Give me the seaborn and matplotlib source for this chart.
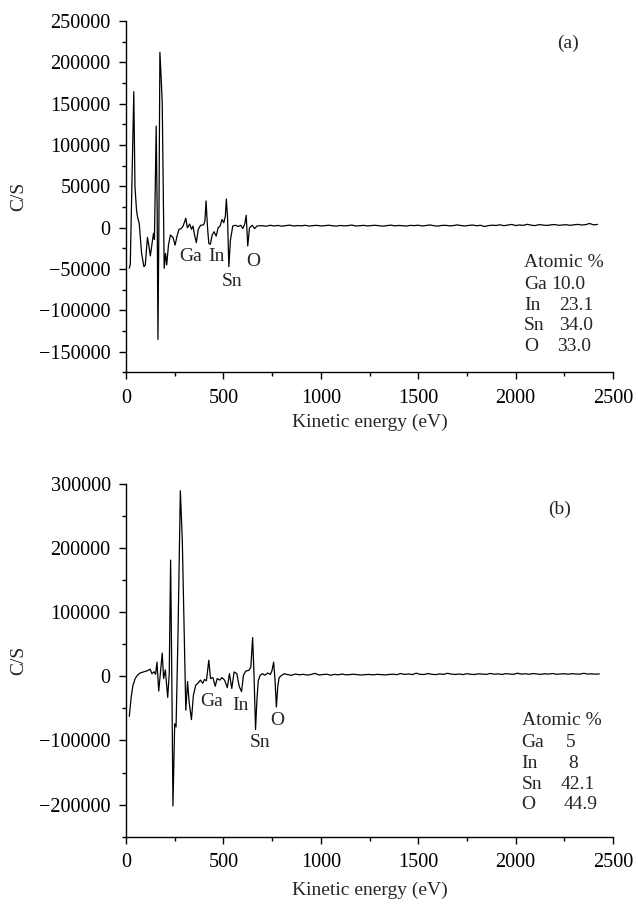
import numpy as np
import pandas as pd
import matplotlib
matplotlib.use("Agg")
import matplotlib.pyplot as plt
import seaborn as sns

# ---------------- data: panel (a) ----------------
energy_a_low = [17, 22, 40, 46, 54, 59, 68, 80, 92, 99, 110, 117, 125, 134, 141, 146,
                155, 160, 164, 169, 174, 181, 186, 196, 203, 209, 218, 228, 241, 252,
                262, 272, 284, 293, 307, 315, 327, 336, 344, 352, 361, 371, 383, 398,
                405, 411, 418, 425, 433, 442, 452, 463, 473, 483, 493, 502, 510, 515,
                521, 528, 536, 548, 562, 576, 589, 600, 610, 617, 625, 634, 648, 660,
                672, 686]
cps_a_low = [-49000, -44000, 164600, 49600, 21400, 13300, 5000, -31000, -47000, -45000,
             -11600, -21000, -34000, -19000, -6800, -14000, 123000, 20000, -135000,
             10000, 212200, 178700, 150500, -49000, -31000, -45000, -21000, -8800,
             -11600, -21000, -10000, -1800, -1000, 2000, 11500, 0, 4500, -1800, 2000,
             -9000, -18000, -1800, 3000, 3500, 8000, 32500, 2000, -19000, -20000, -9000,
             -4800, -10000, 0, 2000, 10000, 6000, 14000, 34700, 14000, -47000, -15000,
             2000, 3000, 1500, 3000, -1000, 5000, 15000, -22000, 0, 3000, -1000, 2000,
             2500]
tail_a = [2500, 1800, 3000, 2200, 2800, 1900, 2600, 3200, 2100, 2700, 2300, 3000, 2000,
          2600, 2900, 2200, 2500, 3100, 2400, 2000, 2800, 2300, 2600, 3300, 2100, 2500,
          2900, 2200, 2700, 3000, 2400, 2000, 2600, 3200, 2300, 2800, 2500, 2100, 2900,
          2600, 3100, 2200, 2700, 3400, 2500, 2000, 2800, 3000, 2300, 2600, 3500, 2700,
          2200, 2900, 3300, 2400, 3000, 1500, 2600, 3100, 2800, 3600, 2500, 3200, 4000,
          2700, 3400, 2900, 4200, 3100, 2600, 3800, 3300, 2800, 3500, 3900, 3000, 3400,
          3700, 2900, 3600, 4100, 3300, 3800, 5200, 3500, 4000]

# ---------------- data: panel (b) ----------------
energy_b_low = [17, 26, 35, 47, 59, 72, 90, 107, 124, 133, 145, 152, 159, 168, 176, 186,
                193, 202, 214, 222, 229, 235, 241, 250, 257, 267, 279, 289, 307, 316,
                324, 336, 346, 358, 372, 382, 394, 403, 413, 425, 434, 446, 458, 468,
                482, 492, 506, 520, 531, 543, 555, 569, 581, 593, 603, 615, 632, 641,
                650, 657, 665, 672, 679, 689, 701, 713, 727, 741, 749, 758, 765, 772,
                779, 786, 800, 813]
cps_b_low = [-62400, -34000, -15000, -3600, 1600, 5000, 6800, 8300, 11000, 4000, 7000,
             3000, 22000, -23000, 4000, 36000, -3600, 10000, -33000, 4000, 181000, 4000,
             -202000, -74000, -79000, 66600, 289000, 212000, -53000, -8300, -40000,
             -67600, -29600, -14000, -10000, -6000, -11000, -5000, -7000, 25000, -3600,
             -2000, -15600, -3600, -6000, -2000, -6000, -17700, 4000, -19000, 6700, 4000,
             -15600, -24000, 1600, 8000, 9400, 14500, 60300, 4000, -83000, -37000, -7000,
             1600, 4000, 1600, 5000, 3000, 8300, 22000, -6000, -48000, -16600, -2000,
             1600, 4000]
tail_b = [2500, 1500, 3500, 2200, 3000, 1800, 2800, 4500, 2000, 2600, 3200, 1700, 2900,
          2300, 3400, 2100, 2700, 3100, 2400, 1900, 2600, 2800, 2200, 3000, 2500, 2100,
          2700, 3300, 2400, 4300, 2800, 3600, 2600, 4800, 3000, 2700, 4200, 3100, 2500,
          3700, 2900, 4600, 3300, 2800, 3500, 2600, 4000, 3100, 2700, 3800, 3300, 2900,
          4400, 3200, 3700, 2800, 4100, 3400, 3000, 4700, 3300, 3900, 3100, 4200, 3500,
          3000, 3800, 3400, 4300, 3100, 3600, 3900, 3200, 4000, 3500, 3300, 4600, 3400,
          3800, 3200, 3600]

labels = ["Ga", "In", "Sn", "O"]
label_pos_a = [(331, -35000), (463, -35000), (542, -64500), (653, -40300)]
label_pos_b = [(437, -40000), (588, -45300), (689, -102500), (775, -69700)]
atomic_a = ["10.0", "23.1", "34.0", "33.0"]
atomic_b = ["5", "8", "42.1", "44.9"]

energy_tail_a = np.arange(700, 700 + 20 * len(tail_a), 20)
energy_tail_b = np.arange(830, 830 + 20 * len(tail_b), 20)

df_a = pd.DataFrame({"E": list(energy_a_low) + list(energy_tail_a),
                     "C": list(cps_a_low) + list(tail_a)})
df_b = pd.DataFrame({"E": list(energy_b_low) + list(energy_tail_b),
                     "C": list(cps_b_low) + list(tail_b)})

# ---------------- style ----------------
sns.set_style("ticks")
plt.rcParams["font.family"] = ["Liberation Serif", "DejaVu Serif"]
FS = 14
TFS = 14.6

fig = plt.figure(figsize=(6.38, 9.05), dpi=100)
ax_a = fig.add_axes([126 / 638, 1 - 372.5 / 905, 487 / 638, 351.5 / 905])
ax_b = fig.add_axes([126 / 638, 1 - 836.7 / 905, 487 / 638, 353 / 905])

for ax, df in ((ax_a, df_a), (ax_b, df_b)):
    sns.lineplot(data=df, x="E", y="C", ax=ax, color="black", linewidth=0.9,
                 sort=False, estimator=None)

ax_a.set_ylim(-175000, 250000)
ax_a.set_yticks(np.arange(-150000, 250001, 50000))
ax_a.set_yticks(np.arange(-175000, 250001, 25000), minor=True)
ax_b.set_ylim(-250000, 300000)
ax_b.set_yticks(np.arange(-200000, 300001, 100000))
ax_b.set_yticks(np.arange(-250000, 300001, 50000), minor=True)

for ax in (ax_a, ax_b):
    ax.set_xlim(0, 2500)
    ax.set_xticks(np.arange(0, 2501, 500))
    ax.set_xticks(np.arange(0, 2501, 250), minor=True)
    ax.yaxis.set_major_formatter(matplotlib.ticker.FuncFormatter(
        lambda v, p: ("\u2212" if v < 0 else "") + f"{abs(int(v))}"))
    for s in ("top", "right"):
        ax.spines[s].set_visible(False)
    for s in ("left", "bottom"):
        ax.spines[s].set_linewidth(1.0)
        ax.spines[s].set_color("black")
    ax.tick_params(which="major", direction="out", length=5, width=1.0,
                   labelsize=TFS, colors="black")
    ax.tick_params(axis="x", which="major", pad=7)
    ax.tick_params(axis="y", which="major", pad=6)
    ax.tick_params(which="minor", direction="out", length=3, width=1.0, colors="black")
    ax.set_xlabel("Kinetic energy (eV)", fontsize=FS, va="center")
    ax.set_ylabel("C/S", fontsize=FS, va="center")

ax_a.xaxis.set_label_coords(0.5, -(422 - 372.5) / 351.5)
ax_b.xaxis.set_label_coords(0.5, -(890 - 836.7) / 353)
ax_a.yaxis.set_label_coords(-(126 - 19) / 487, 0.5)
ax_b.yaxis.set_label_coords(-(126 - 19) / 487, 0.5)

# peak labels
for ax, pos in ((ax_a, label_pos_a), (ax_b, label_pos_b)):
    for lab, (x, y) in zip(labels, pos):
        ax.text(x, y, lab, fontsize=FS, ha="center", va="center")

# panel tags
ax_a.text(0.908, 0.937, "(a)", transform=ax_a.transAxes, fontsize=FS, ha="center", va="center")
ax_b.text(0.891, 0.928, "(b)", transform=ax_b.transAxes, fontsize=FS, ha="center", va="center")

# atomic % blocks
ya = [0.314, 0.249, 0.192, 0.135, 0.073]
num_xa = [0.873, 0.889, 0.890, 0.885]
ax_a.text(0.817, ya[0], "Atomic %", transform=ax_a.transAxes, fontsize=FS, va="center")
for i, (lab, val) in enumerate(zip(labels, atomic_a)):
    ax_a.text(0.817, ya[i + 1], lab, transform=ax_a.transAxes, fontsize=FS, va="center")
    ax_a.text(num_xa[i], ya[i + 1], val, transform=ax_a.transAxes, fontsize=FS, va="center")

yb = [0.329, 0.266, 0.208, 0.149, 0.090]
num_xb = [0.903, 0.908, 0.893, 0.899]
ax_b.text(0.8125, yb[0], "Atomic %", transform=ax_b.transAxes, fontsize=FS, va="center")
for i, (lab, val) in enumerate(zip(labels, atomic_b)):
    ax_b.text(0.8125, yb[i + 1], lab, transform=ax_b.transAxes, fontsize=FS, va="center")
    ax_b.text(num_xb[i], yb[i + 1], val, transform=ax_b.transAxes, fontsize=FS, va="center")

fig.savefig("out.png", dpi=100)
